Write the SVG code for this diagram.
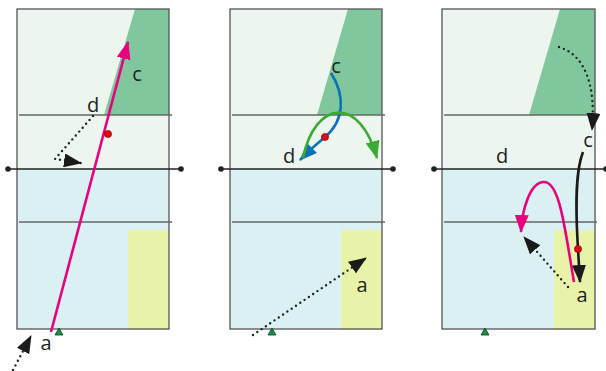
<svg xmlns="http://www.w3.org/2000/svg" width="606" height="371" viewBox="0 0 606 371">
<defs>
<style>
.top{fill:#edf6ee}
.bot{fill:#daf0f3}
.dg{fill:#80c79d}
.yl{fill:#e8f2a8}
.frame{fill:none;stroke:#555;stroke-width:1.3}
.hl{stroke:#666;stroke-width:1.3}
.mid{stroke:#222;stroke-width:1.6}
.dot{fill:#222}
.lbl{font-family:"Open Sans","Liberation Sans",sans-serif;font-size:20px;fill:#222;text-anchor:middle}
.dotted{fill:none;stroke:#222;stroke-width:2.4;stroke-dasharray:0 5.2;stroke-linecap:round}
.tri{fill:#17904a;stroke:#0b3b1e;stroke-width:0.8}
.red{fill:#e30613;stroke:#7a0000;stroke-width:0.6}
</style>
<marker id="ak" viewBox="0 0 18 14" refX="17" refY="7" markerWidth="18" markerHeight="14" markerUnits="userSpaceOnUse" orient="auto"><path d="M0,0 L18,7 L0,14 z" fill="#1a1a1a"/></marker>
<marker id="am" viewBox="0 0 18 14" refX="17" refY="7" markerWidth="18" markerHeight="14" markerUnits="userSpaceOnUse" orient="auto"><path d="M0,0 L18,7 L0,14 z" fill="#e6007e"/></marker>
<marker id="ab" viewBox="0 0 18 14" refX="17" refY="7" markerWidth="18" markerHeight="14" markerUnits="userSpaceOnUse" orient="auto"><path d="M0,0 L18,7 L0,14 z" fill="#0b72b5"/></marker>
<marker id="ag" viewBox="0 0 18 14" refX="17" refY="7" markerWidth="18" markerHeight="14" markerUnits="userSpaceOnUse" orient="auto"><path d="M0,0 L18,7 L0,14 z" fill="#3aaa35"/></marker>
</defs>

<g id="panel1">
<rect class="top" x="17" y="9" width="152" height="160"/>
<rect class="bot" x="17" y="169" width="152" height="160"/>
<polygon class="dg" points="135,9 169,9 169,115 104,115"/>
<rect class="yl" x="128" y="230" width="41" height="100"/>
<rect class="frame" x="17" y="9" width="152" height="320"/>
<line class="hl" x1="19" y1="115" x2="172" y2="115"/>
<line class="hl" x1="19" y1="222" x2="172" y2="222"/>
<line class="mid" x1="8" y1="169" x2="181" y2="169"/>
<circle class="dot" cx="8" cy="169" r="2.8"/>
<circle class="dot" cx="181" cy="169" r="2.8"/>
<polygon class="tri" points="59,328 55,335 63,335"/>
</g>

<g id="panel2">
<rect class="top" x="230" y="9" width="152" height="160"/>
<rect class="bot" x="230" y="169" width="152" height="160"/>
<polygon class="dg" points="348,9 382,9 382,115 317,115"/>
<rect class="yl" x="341" y="230" width="41" height="100"/>
<rect class="frame" x="230" y="9" width="152" height="320"/>
<line class="hl" x1="232" y1="115" x2="385" y2="115"/>
<line class="hl" x1="232" y1="222" x2="385" y2="222"/>
<line class="mid" x1="221" y1="169" x2="393" y2="169"/>
<circle class="dot" cx="221" cy="169" r="2.8"/>
<circle class="dot" cx="393" cy="169" r="2.8"/>
<polygon class="tri" points="272,328 268,335 276,335"/>
</g>

<g id="panel3">
<rect class="top" x="442" y="9" width="153" height="160"/>
<rect class="bot" x="442" y="169" width="153" height="160"/>
<polygon class="dg" points="560,9 595,9 595,115 529,115"/>
<rect class="yl" x="554" y="230" width="41" height="100"/>
<rect class="frame" x="442" y="9" width="153" height="320"/>
<line class="hl" x1="444" y1="115" x2="597" y2="115"/>
<line class="hl" x1="444" y1="222" x2="597" y2="222"/>
<line class="mid" x1="434" y1="169" x2="606" y2="169"/>
<circle class="dot" cx="434" cy="169" r="2.8"/>
<circle class="dot" cx="606" cy="169" r="2.8"/>
<polygon class="tri" points="485,328 481,335 489,335"/>
</g>

<g id="connectors">
<path d="M51,332 L128,42" fill="none" stroke="#e6007e" stroke-width="2.6" marker-end="url(#am)"/>
<path class="dotted" d="M93,116 L55,159 L81,163" marker-end="url(#ak)"/>
<path class="dotted" d="M13,370 L31,336" marker-end="url(#ak)"/>

<path d="M331,73 C345,95 345,120 325,137 S305,155 300,160" fill="none" stroke="#0b72b5" stroke-width="2.6" marker-end="url(#ab)"/>
<path d="M303,158 C315,100 360,95 377,158" fill="none" stroke="#3aaa35" stroke-width="2.6" marker-end="url(#ag)"/>
<path class="dotted" d="M253,335 L366,258" marker-end="url(#ak)"/>

<path class="dotted" d="M559,47 C585,55 596,85 592,130" marker-end="url(#ak)"/>
<path d="M583,152 C576,170 575,200 578,249 L580,282" fill="none" stroke="#1a1a1a" stroke-width="2.6" marker-end="url(#ak)"/>
<path d="M574,282 C565,230 560,182 544,182 C530,182 522,210 521,232" fill="none" stroke="#e6007e" stroke-width="2.6" marker-end="url(#am)"/>
<path class="dotted" d="M568,287 L524,237" marker-end="url(#ak)"/>
</g>

<g id="markers">
<circle class="red" cx="108" cy="134" r="3.6"/>
<circle class="red" cx="325" cy="137" r="3.6"/>
<circle class="red" cx="578" cy="249" r="3.6"/>
</g>

<g id="labels">
<text class="lbl" x="137" y="81">c</text>
<text class="lbl" x="93" y="112">d</text>
<text class="lbl" x="46" y="350">a</text>
<text class="lbl" x="336" y="73">c</text>
<text class="lbl" x="289" y="163">d</text>
<text class="lbl" x="362" y="292">a</text>
<text class="lbl" x="588" y="147">c</text>
<text class="lbl" x="502" y="163">d</text>
<text class="lbl" x="582" y="302">a</text>
</g>
</svg>
